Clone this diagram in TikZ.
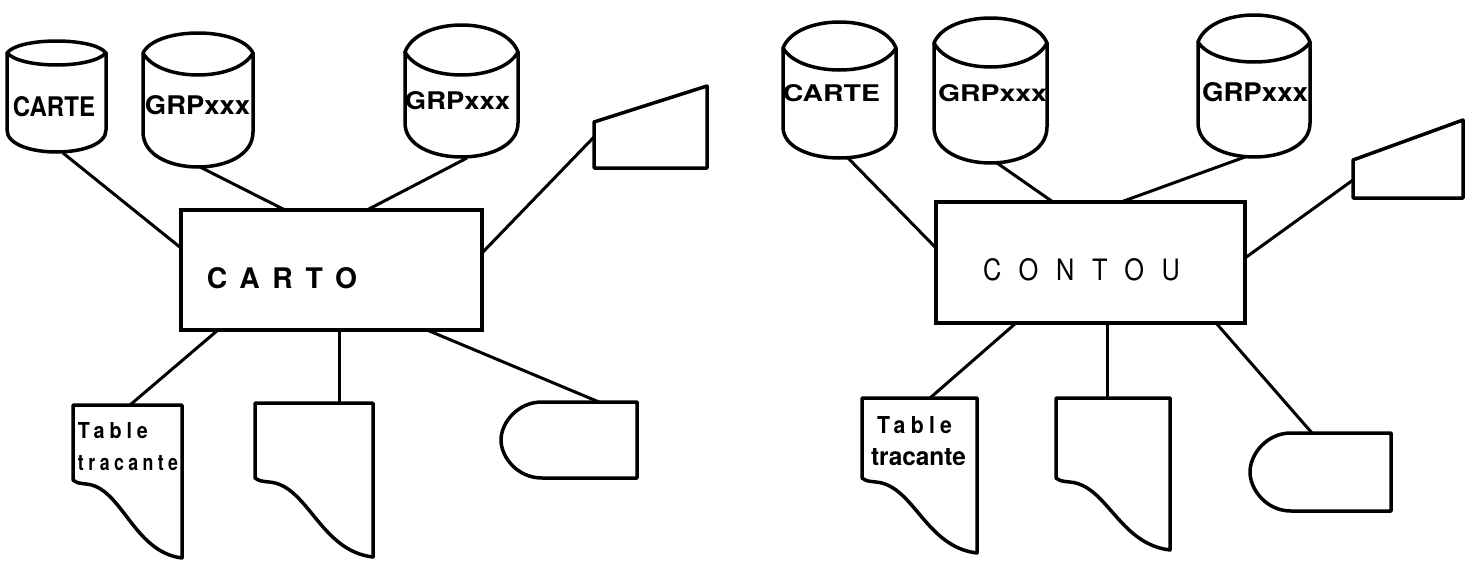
\documentclass[tikz,border=0pt]{standalone}
\usepackage{fontspec}
\usepackage{graphicx}
\setmainfont{TeX Gyre Heros}
\newfontfamily\spc[LetterSpace=25]{TeX Gyre Heros}
\newfontfamily\spcm[LetterSpace=45]{TeX Gyre Heros}
\newfontfamily\spcw[LetterSpace=70]{TeX Gyre Heros}
\newcommand\fitt[3]{\resizebox{#1pt}{#2pt}{#3}}
\tikzset{
  outl/.style={line width=3.5pt, line join=round, line cap=round},
  conn/.style={line width=3pt},
  lbl/.style={inner sep=0pt, outer sep=0pt},
  boxn/.style={draw, line width=3.5pt, inner sep=0pt},
}
\newcommand\cyl[7]{% L,R,t,s,i,e,b
  \pgfmathsetmacro\cw{#2-#1}
  \pgfmathsetmacro\ctp{(8*#3-2*#4)/6}
  \pgfmathsetmacro\cip{(8*#5-2*#4)/6}
  \pgfmathsetmacro\cbk{#6+(#7-#6)/0.75}
  \draw[outl] (#1,#4) .. controls ({#1+0.12*\cw},\ctp) and ({#2-0.12*\cw},\ctp) .. (#2,#4)
     .. controls ({#2-0.15*\cw},\cip) and ({#1+0.15*\cw},\cip) .. cycle;
  \draw[outl] (#1,#4) -- (#1,#6) .. controls (#1,\cbk) and (#2,\cbk) .. (#2,#6) -- (#2,#4);
}
\newcommand\docshape[5]{% L,R,T,Bl,Br
  \pgfmathsetmacro\dw{#2-#1}
  \draw[outl] (#1,#3) -- (#2,#3) -- (#2,#5)
    .. controls ({#1+0.55*\dw},{#5-6}) and ({#1+0.45*\dw},{#4+7}) .. ({#1+0.12*\dw},{#4+4})
    .. controls ({#1+0.04*\dw},{#4+3}) .. (#1,#4) -- cycle;
}
\newcommand\dshape[6]{% x1,L,R,T,B,mid
  \pgfmathsetmacro\dx{#1-0.6*(#1-#2)}
  \pgfmathsetmacro\dlo{#6+0.45*(#5-#6)}
  \pgfmathsetmacro\dhi{#6-0.45*(#6-#4)}
  \draw[outl] (#1,#4) -- (#3,#4) -- (#3,#5) -- (#1,#5)
    .. controls (\dx,#5) and (#2,\dlo) .. (#2,#6)
    .. controls (#2,\dhi) and (\dx,#4) .. cycle;
}
\begin{document}
\begin{tikzpicture}[x=1pt,y=-1pt]
\useasboundingbox (0,0) rectangle (1470,562);
\fill[white] (0,0) rectangle (1470,562);

%% ---------------- LEFT : CARTO ----------------
\cyl{7}{106}{41}{53}{65}{130}{152}
\cyl{143}{253}{33}{53}{75}{132}{167}
\cyl{405}{518}{25}{52}{75}{123}{157}
\draw[outl] (594,122) -- (707,86) -- (707,168) -- (594,168) -- cycle;
\docshape{73}{182}{405}{480}{558}
\docshape{255}{373}{403}{478}{557}
\dshape{542}{501}{637}{402}{478}{440}

\node[boxn, minimum width=301pt, minimum height=120pt] (carto) at (331.5,270) {};

\node[lbl] (lcarte) at (54,107) {\fitt{82}{20}{\bfseries CARTE}};
\node[lbl] (lgrp1) at (197.5,105.5) {\fitt{105}{19}{\bfseries GRPxxx}};
\node[lbl] (lgrp2) at (457.5,101) {\fitt{105}{18}{\bfseries GRPxxx}};
\node[lbl] (lcarto) at (282,278.5) {\fitt{150}{21}{\spcm\bfseries CARTO}};
\node[lbl] (ltab1) at (113,431) {\fitt{70}{16}{\spc\bfseries Table}};
\node[lbl] (ltab2) at (128,463) {\fitt{100}{15}{\spc\bfseries tracante}};

\coordinate (lcarteb) at (63,153);
\coordinate (lgrp1b) at (200,167);
\coordinate (lgrp2b) at (467,158);
\coordinate (ltrapl) at (594,137);
\coordinate (ldoct) at (130,405);
\coordinate (lmidt) at (339,403);
\coordinate (ldt) at (599,402);
\coordinate (cl1) at (181,248);
\coordinate (ct1) at (285,210);
\coordinate (ct2) at (367,210);
\coordinate (cr1) at (482,253);
\coordinate (cb1) at (218,330);
\coordinate (cb2) at (339,330);
\coordinate (cb3) at (427,330);
\draw[conn] (lcarteb) -- (cl1);
\draw[conn] (lgrp1b) -- (ct1);
\draw[conn] (lgrp2b) -- (ct2);
\draw[conn] (ltrapl) -- (cr1);
\draw[conn] (cb1) -- (ldoct);
\draw[conn] (cb2) -- (lmidt);
\draw[conn] (cb3) -- (ldt);

%% ---------------- RIGHT : CONTOU ----------------
\cyl{783}{896}{22}{48}{70}{127}{158}
\cyl{934}{1047}{18}{43}{67}{127}{163}
\cyl{1198}{1310}{15}{42}{62}{123}{157}
\draw[outl] (1353,160) -- (1463,120) -- (1463,198) -- (1353,198) -- cycle;
\docshape{862}{977}{398}{478}{553}
\docshape{1056}{1170}{398}{478}{550}
\dshape{1291}{1250}{1391}{433}{511}{472}

\node[boxn, minimum width=309pt, minimum height=121pt] (contou) at (1090.5,262.5) {};

\node[lbl] (rcarte) at (831.5,93.5) {\fitt{97}{17}{\bfseries CARTE}};
\node[lbl] (rgrp1) at (992.5,93.5) {\fitt{109}{17}{\bfseries GRPxxx}};
\node[lbl] (rgrp2) at (1255,92.5) {\fitt{106}{19}{\bfseries GRPxxx}};
\node[lbl] (rcontou) at (1081.5,270) {\fitt{197}{22}{\spcw CONTOU}};
\node[lbl] (rtab1) at (914.5,425) {\fitt{75}{17}{\spc\bfseries Table}};
\node[lbl] (rtab2) at (918.5,457) {\fitt{95}{17}{\bfseries tracante}};

\coordinate (rcarteb) at (848,158);
\coordinate (rgrp1b) at (997,163);
\coordinate (rgrp2b) at (1245,157);
\coordinate (rtrapl) at (1353,180);
\coordinate (rdoct) at (930,398);
\coordinate (rmidt) at (1107,398);
\coordinate (rdt) at (1312,433);
\coordinate (dl1) at (936,248);
\coordinate (dt1) at (1053,202);
\coordinate (dt2) at (1121,202);
\coordinate (dr1) at (1245,258);
\coordinate (db1) at (1016,323);
\coordinate (db2) at (1107,323);
\coordinate (db3) at (1216,323);
\draw[conn] (rcarteb) -- (dl1);
\draw[conn] (rgrp1b) -- (dt1);
\draw[conn] (rgrp2b) -- (dt2);
\draw[conn] (rtrapl) -- (dr1);
\draw[conn] (db1) -- (rdoct);
\draw[conn] (db2) -- (rmidt);
\draw[conn] (db3) -- (rdt);
\end{tikzpicture}
\end{document}
